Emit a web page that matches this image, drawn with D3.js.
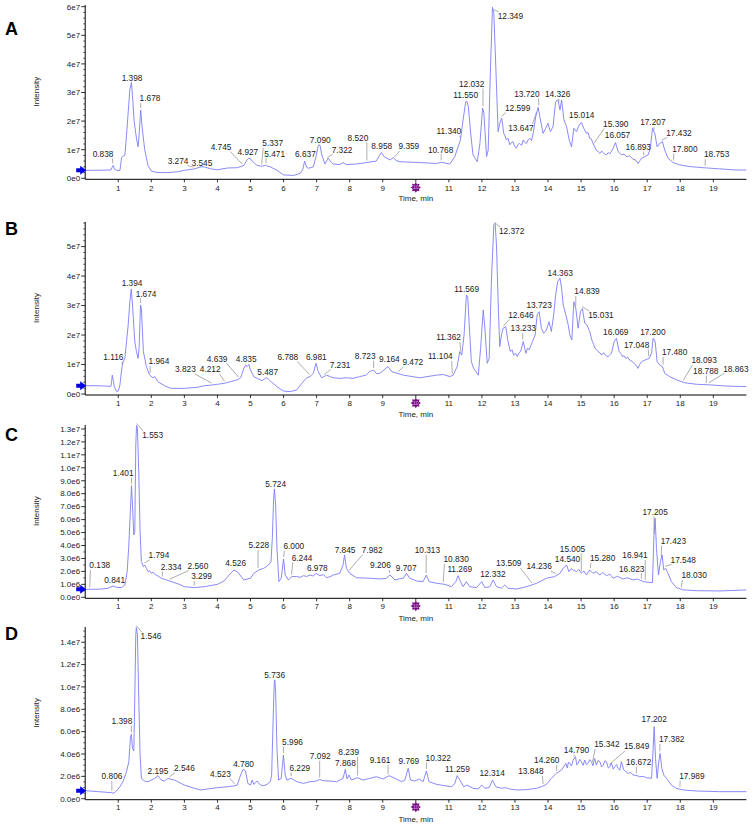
<!DOCTYPE html>
<html><head><meta charset="utf-8">
<script src="https://cdn.jsdelivr.net/npm/d3@7"></script>
<style>body{margin:0;background:#fff} svg{display:block;font-family:Arial,"Liberation Sans",sans-serif}</style>
</head><body><svg id="c" width="753" height="827"></svg>
<script>
// ---------- DATA (time in min, intensity in units of 1e5 counts) ----------
const UNIT = 1e5;
const timeTicks = [1,2,3,4,5,6,7,8,9,10,11,12,13,14,15,16,17,18,19];

const traceA = [[0,28],[0.3,28],[0.6,28.5],[0.78,29],[0.82,40],[0.85,45],[0.88,33],[0.95,28],[1.05,27],[1.1,72],[1.15,78],[1.2,80],[1.25,150],[1.3,230],[1.35,310],[1.398,335],[1.43,290],[1.48,200],[1.55,140],[1.6,110],[1.63,150],[1.678,239],[1.72,180],[1.8,100],[1.9,45],[2.0,25],[2.2,20],[2.5,20],[2.8,23],[3.0,28],[3.3,33],[3.5,40],[3.6,40],[3.8,33],[4.0,30],[4.3,36],[4.6,37],[4.8,45],[4.9,65],[4.95,70],[5.0,68],[5.05,60],[5.1,55],[5.2,45],[5.33,42],[5.45,45],[5.6,40],[5.8,28],[6.0,12],[6.3,10],[6.5,17],[6.58,30],[6.637,60],[6.7,38],[6.75,35],[6.9,40],[6.98,75],[7.05,115],[7.1,117],[7.15,85],[7.25,50],[7.35,70],[7.45,55],[7.5,50],[7.7,48],[7.8,55],[7.9,48],[8.2,50],[8.5,55],[8.8,60],[8.958,90],[9.05,75],[9.22,64],[9.32,73],[9.4,62],[9.52,58],[10.12,55],[10.63,52],[10.78,56],[11.03,50],[11.18,76],[11.28,110],[11.35,134],[11.43,204],[11.51,268],[11.55,268],[11.59,250],[11.66,157],[11.73,82],[11.86,58],[11.94,122],[12.02,245],[12.06,228],[12.14,76],[12.19,99],[12.26,390],[12.32,598],[12.36,577],[12.42,390],[12.49,163],[12.54,192],[12.6,210],[12.66,157],[12.7,148],[12.74,134],[12.79,140],[12.84,117],[12.9,126],[12.94,128],[12.99,112],[13.04,105],[13.09,118],[13.14,122],[13.2,115],[13.25,134],[13.3,125],[13.35,122],[13.4,135],[13.45,140],[13.5,132],[13.55,157],[13.63,216],[13.7,248],[13.77,204],[13.85,157],[13.93,175],[14.0,192],[14.07,163],[14.15,180],[14.23,268],[14.3,274],[14.36,239],[14.41,274],[14.48,204],[14.56,181],[14.64,134],[14.71,110],[14.78,175],[14.86,163],[14.94,186],[15.01,195],[15.08,175],[15.16,157],[15.21,160],[15.26,140],[15.31,138],[15.36,122],[15.41,110],[15.46,99],[15.52,92],[15.57,87],[15.62,95],[15.67,90],[15.72,84],[15.77,82],[15.82,90],[15.87,85],[15.97,105],[16.04,125],[16.12,93],[16.17,88],[16.22,82],[16.3,85],[16.37,76],[16.47,78],[16.57,67],[16.65,64],[16.72,52],[16.78,62],[16.83,70],[16.93,76],[17.03,82],[17.1,110],[17.16,175],[17.23,157],[17.3,110],[17.38,122],[17.46,128],[17.53,99],[17.63,70],[17.78,55],[17.98,47],[18.29,41],[18.69,37],[19.19,33],[19.7,29],[20,29]];

const traceB = [[0,28],[0.4,28],[0.78,26],[0.8,45],[0.82,64],[0.85,45],[0.88,25],[0.95,8],[1.0,10],[1.05,30],[1.1,81],[1.116,93],[1.15,110],[1.2,121],[1.25,178],[1.3,234],[1.35,313],[1.394,356],[1.43,302],[1.5,178],[1.55,144],[1.6,121],[1.63,155],[1.674,302],[1.7,290],[1.76,144],[1.85,93],[1.95,64],[2.05,55],[2.1,59],[2.2,42],[2.4,28],[2.6,19],[3.0,19],[3.4,23],[3.6,28],[3.8,30],[4.0,33],[4.2,36],[4.4,42],[4.6,48],[4.7,55],[4.8,87],[4.85,98],[4.9,93],[4.95,100],[5.0,81],[5.1,59],[5.2,53],[5.35,45],[5.45,53],[5.5,55],[5.6,44],[5.8,25],[6.0,10],[6.2,8],[6.4,14],[6.55,36],[6.7,55],[6.8,59],[6.9,70],[6.98,104],[7.05,76],[7.15,55],[7.3,64],[7.5,55],[7.7,53],[7.9,55],[8.1,53],[8.3,59],[8.5,64],[8.6,76],[8.723,81],[8.8,70],[8.91,70],[9.16,93],[9.27,76],[9.62,64],[10.12,55],[10.63,64],[10.83,66],[11.03,59],[11.13,64],[11.25,93],[11.33,144],[11.39,132],[11.46,200],[11.53,336],[11.57,330],[11.61,245],[11.68,110],[11.75,87],[11.89,64],[11.96,155],[12.04,285],[12.09,223],[12.16,104],[12.22,121],[12.29,393],[12.36,574],[12.4,579],[12.44,506],[12.5,279],[12.54,161],[12.59,200],[12.64,223],[12.72,228],[12.79,178],[12.86,144],[12.91,150],[12.96,132],[13.02,138],[13.07,127],[13.12,140],[13.17,144],[13.25,178],[13.33,138],[13.38,155],[13.43,150],[13.48,165],[13.53,178],[13.61,200],[13.67,268],[13.73,279],[13.8,223],[13.87,206],[13.95,217],[14.03,245],[14.1,212],[14.17,268],[14.23,336],[14.29,381],[14.36,393],[14.41,359],[14.46,302],[14.54,268],[14.61,234],[14.66,200],[14.72,183],[14.78,313],[14.84,290],[14.91,223],[14.98,279],[15.04,290],[15.11,240],[15.18,234],[15.26,212],[15.3,195],[15.34,178],[15.38,168],[15.42,155],[15.47,150],[15.51,144],[15.57,140],[15.62,132],[15.67,140],[15.72,135],[15.77,128],[15.82,127],[15.87,134],[15.92,138],[16.0,178],[16.07,189],[16.15,144],[16.2,138],[16.25,127],[16.3,130],[16.35,121],[16.41,125],[16.47,115],[16.53,112],[16.59,104],[16.65,100],[16.72,87],[16.77,100],[16.83,110],[16.93,115],[17.06,121],[17.13,138],[17.18,189],[17.24,178],[17.3,110],[17.38,98],[17.46,93],[17.53,70],[17.68,59],[17.88,48],[18.14,38],[18.49,33],[18.89,31],[19.4,27],[20,25]];

const traceC = [[0,6.2],[0.3,6.2],[0.5,6.4],[0.7,7.0],[0.84,8.75],[0.95,7.7],[1.1,7.5],[1.2,9.5],[1.27,19.8],[1.32,40.4],[1.36,63.6],[1.401,86.2],[1.43,71.3],[1.47,48.1],[1.5,50.6],[1.53,117.6],[1.553,132.6],[1.58,130.5],[1.62,97],[1.66,50.7],[1.7,27.5],[1.76,23.7],[1.8,25],[1.85,22.4],[1.9,19.8],[1.95,20.5],[2.0,18.5],[2.05,19.5],[2.1,17.8],[2.2,16.5],[2.3,14.7],[2.45,13.5],[2.6,12.1],[2.8,10.5],[3.0,8.2],[3.3,7.5],[3.6,8.2],[4.0,10],[4.2,12.6],[4.4,18.5],[4.5,21.1],[4.6,19.8],[4.8,13.4],[5.0,14.7],[5.1,18.5],[5.25,21.1],[5.4,22.4],[5.55,25],[5.62,27.5],[5.66,45.6],[5.7,76.4],[5.724,83.7],[5.76,71.3],[5.8,37.8],[5.86,12.1],[5.93,14.7],[6.0,29.6],[6.05,17.2],[6.15,13.4],[6.244,16],[6.4,16],[6.5,15.4],[6.6,16.7],[6.7,16.1],[6.8,17.2],[6.9,16.4],[6.978,18.5],[7.1,16.7],[7.2,17.6],[7.3,15.2],[7.4,15.8],[7.5,17.2],[7.7,18.5],[7.8,25],[7.845,32.7],[7.9,22.4],[8.0,18.5],[8.2,15.2],[8.4,14.9],[8.6,14.7],[8.91,14.2],[9.1,14.6],[9.22,17.2],[9.37,13.4],[9.5,14.2],[9.62,14.7],[9.72,18.5],[9.82,14.7],[10.02,12.6],[10.22,12.1],[10.32,17.2],[10.4,12.1],[10.63,10.8],[10.88,10],[11.08,8.2],[11.21,12.1],[11.28,16.7],[11.35,12.1],[11.43,8.2],[11.53,12.1],[11.63,8.2],[11.84,7.5],[11.99,12.1],[12.09,7.5],[12.24,8.2],[12.34,13.4],[12.44,8.2],[12.59,7],[12.69,9.5],[12.79,7],[13.05,6.4],[13.35,8.2],[13.65,10.8],[13.95,14.7],[14.2,16],[14.36,18.5],[14.46,22.4],[14.56,25],[14.63,19.8],[14.7,22.2],[14.76,21.1],[14.86,19.8],[14.93,21.6],[15.01,18.5],[15.08,20.4],[15.16,17.2],[15.26,21.1],[15.36,18.5],[15.45,19.8],[15.57,17.2],[15.65,19.2],[15.77,16.7],[15.87,17.9],[15.97,14.7],[16.1,16.2],[16.27,14.2],[16.4,15.1],[16.57,13.4],[16.7,14.1],[16.88,12.1],[17.03,11.6],[17.16,11.3],[17.2,45.6],[17.24,61],[17.28,37.8],[17.34,17.2],[17.4,27.5],[17.45,32.7],[17.5,21.1],[17.56,22.4],[17.63,18.5],[17.73,12.1],[17.88,7.5],[18.09,5.7],[18.49,5.1],[19.19,4.9],[20,5.7]];

const traceD = [[0,7.2],[0.4,6.3],[0.8,5.4],[0.85,4.8],[0.95,6.9],[1.05,10.7],[1.15,15.8],[1.25,24.2],[1.32,33.1],[1.37,55.5],[1.398,57.6],[1.43,45.1],[1.47,42.7],[1.5,89.9],[1.53,146.6],[1.546,153.1],[1.58,146.6],[1.62,89.9],[1.66,39.1],[1.7,18.2],[1.8,15.8],[1.9,15.2],[2.0,16.7],[2.1,18.2],[2.2,20.6],[2.3,16.7],[2.4,15.8],[2.5,18.2],[2.6,17.3],[2.7,16.7],[2.8,15.2],[2.9,13.7],[3.0,12.2],[3.3,9.3],[3.5,7.8],[3.7,8.7],[4.0,9.9],[4.3,10.7],[4.52,11.6],[4.6,12.2],[4.7,21.2],[4.78,26.3],[4.85,24.8],[4.92,13.7],[5.0,12.2],[5.05,16.7],[5.1,12.8],[5.2,15.8],[5.3,12.2],[5.4,11.6],[5.5,12.8],[5.6,15.2],[5.64,21.2],[5.68,66],[5.72,104.8],[5.736,106.3],[5.76,95.8],[5.8,45.1],[5.85,16.7],[5.93,18.2],[5.996,39.1],[6.05,21.2],[6.1,16.7],[6.229,18.2],[6.4,15.2],[6.6,13.7],[6.8,15.2],[7.0,15.8],[7.09,17.3],[7.2,16.1],[7.4,15.8],[7.6,15.2],[7.7,16.7],[7.8,18.2],[7.868,26.3],[7.92,17.6],[7.98,21.2],[8.05,16.7],[8.239,18.8],[8.4,16.7],[8.61,18.2],[8.81,19.7],[9.01,17.6],[9.19,20.6],[9.37,18.2],[9.57,15.2],[9.67,16.7],[9.77,27.2],[9.84,16.7],[9.97,15.8],[10.1,17.6],[10.22,15.2],[10.32,24.8],[10.4,15.2],[10.63,12.8],[10.88,11.6],[11.08,10.7],[11.18,13.7],[11.25,20.6],[11.33,16.7],[11.45,10.7],[11.55,12.2],[11.73,9.3],[11.89,8.7],[11.99,12.2],[12.09,9.3],[12.22,9.9],[12.32,16.7],[12.42,10.7],[12.59,9.3],[12.69,9.9],[12.84,8.7],[13.05,7.8],[13.35,8.1],[13.65,9.3],[13.8,10.7],[13.95,12.8],[14.1,18.2],[14.25,22.7],[14.41,25.7],[14.54,31.6],[14.58,27.5],[14.62,32.8],[14.66,31.6],[14.71,29.3],[14.76,34.6],[14.83,37.6],[14.87,30.2],[14.91,31.6],[14.96,35.2],[15.01,33.1],[15.06,29.8],[15.11,34.6],[15.16,30.5],[15.21,31.6],[15.26,35.0],[15.31,33.1],[15.36,29.5],[15.41,36.1],[15.46,30.1],[15.51,34.2],[15.57,33.1],[15.62,28.4],[15.67,30.1],[15.72,34.0],[15.77,33.1],[15.82,27.6],[15.87,28.7],[15.92,31.9],[15.97,26.5],[16.02,28.7],[16.07,30.6],[16.12,27.2],[16.17,25.4],[16.22,33.1],[16.29,25.7],[16.35,24.3],[16.42,22.7],[16.5,23.5],[16.57,21.2],[16.66,20.9],[16.77,19.7],[16.88,19.9],[16.98,18.8],[17.13,18.2],[17.18,45.1],[17.21,64.5],[17.25,36.1],[17.3,18.2],[17.35,33.1],[17.39,40.6],[17.44,27.2],[17.5,21.2],[17.58,18.2],[17.73,12.2],[17.88,9.3],[18.09,7.8],[18.49,6.9],[19.19,6.3],[20,6.3]];

// peak labels: [label, text centre time, text baseline intensity (units of 1e5)]
const labelsA = [["0.838",0.54,75.5],["1.398",1.416,341],["1.678",1.96,269],["3.274",2.81,50],["3.545",3.53,43],["4.745",4.11,99],["4.927",4.92,80],["5.337",5.67,113],["5.471",5.73,75.5],["6.637",6.66,75.5],["7.090",7.11,124.5],["7.322",7.77,89.5],["8.520",8.25,131.5],["8.958",8.97,101],["9.359",9.79,101],["10.768",10.75,89.5],["11.340",11.0,155],["11.550",11.51,280],["12.032",11.69,320],["12.349",12.86,558],["12.599",13.08,236],["13.647",13.18,166],["13.720",13.36,285],["14.326",14.29,283],["15.014",15.02,210],["15.390",16.05,180],["16.057",16.10,140],["16.893",16.73,99],["17.207",17.17,186],["17.432",17.96,149],["17.800",18.14,93],["18.753",19.10,73]];
const labelsB = [["1.116",0.85,115],["1.394",1.416,367],["1.674",1.84,330],["1.964",2.23,101],["3.823",3.03,74],["4.212",3.78,74],["4.639",3.99,110],["4.835",4.87,110],["5.487",5.52,64.5],["6.788",6.13,116],["6.981",6.99,116],["7.231",7.71,89],["8.723",8.47,118],["9.164",9.2,108],["9.472",9.91,98],["11.104",10.74,118],["11.362",10.99,183],["11.569",11.54,345],["12.372",12.90,543],["12.646",13.18,258],["13.233",13.25,212],["13.723",13.73,291],["14.363",14.37,400],["14.839",15.18,338],["15.031",15.60,257],["16.069",16.05,200],["17.048",16.68,157],["17.200",17.17,200],["17.480",17.83,132],["18.093",18.72,104],["18.788",18.77,68],["18.863",19.68,76]];
const labelsC = [["0.138",0.44,22.4],["0.841",0.89,11.3],["1.401",1.15,93.7],["1.553",2.04,122.8],["1.794",2.23,30.1],["2.334",2.60,21.3],["2.560",3.41,21.9],["3.299",3.52,13.9],["4.526",4.55,23.9],["5.228",5.25,37.8],["5.724",5.76,85.4],["6.000",6.31,37.1],["6.244",6.56,28.3],["6.978",7.02,20.5],["7.845",7.86,34.4],["7.982",8.68,34.4],["9.206",8.93,22.4],["9.707",9.71,20.5],["10.313",10.35,34.0],["10.830",11.22,27.0],["11.269",11.33,19.3],["12.332",12.33,15.4],["13.509",12.81,23.9],["14.236",13.73,21.6],["14.540",14.59,27.5],["15.005",14.74,35.2],["15.280",15.65,28.0],["16.823",16.53,19.8],["16.941",16.63,30.1],["17.205",17.24,63.6],["17.423",17.79,41.2],["17.548",18.09,26.7],["18.030",18.42,14.7]];
const labelsD = [["0.806",0.81,17.6],["1.398",1.11,66.6],["1.546",1.99,143],["2.195",2.20,22.1],["2.546",3.0,24.8],["4.523",4.09,19.7],["4.780",4.79,28.6],["5.736",5.73,108.3],["5.996",6.27,48.2],["6.229",6.49,25.1],["7.092",7.11,35.5],["7.868",7.87,29.5],["8.239",7.97,39.1],["9.161",8.92,31.7],["9.769",9.79,31.1],["10.322",10.68,34.0],["11.259",11.26,24.2],["12.314",12.31,20.6],["13.848",13.48,21.8],["14.260",13.96,31.7],["14.790",14.86,41.2],["15.342",15.78,46.0],["15.849",16.68,44.2],["16.672",16.74,30.2],["17.202",17.21,68.4],["17.382",17.74,50.5],["17.989",18.35,17.6]];

// y ticks (raw intensity) and their texts
const yTicksA = [0,1e7,2e7,3e7,4e7,5e7,6e7];
const yTextA  = ["0e0","1e7","2e7","3e7","4e7","5e7","6e7"];
const yTicksB = [0,1e7,2e7,3e7,4e7,5e7];
const yTextB  = ["0e0","1e7","2e7","3e7","4e7","5e7"];
const yTicksC = [0,1e6,2e6,3e6,4e6,5e6,6e6,7e6,8e6,9e6,1e7,1.1e7,1.2e7,1.3e7];
const yTextC  = ["0.0e0","1.0e6","2.0e6","3.0e6","4.0e6","5.0e6","6.0e6","7.0e6","8.0e6","9.0e6","1.0e7","1.1e7","1.2e7","1.3e7"];
const yTicksD = [0,2e6,4e6,6e6,8e6,1e7,1.2e7,1.4e7];
const yTextD  = ["0.0e0","2.0e6","4.0e6","6.0e6","8.0e6","1.0e7","1.2e7","1.4e7"];

// ---------- LAYOUT ----------
const X0 = 85.2, X1 = 746.4;
const panels = [
  {letter:"A", trace:traceA, labels:labelsA, yt:yTicksA, ytx:yTextA, yMax:6.0e7,   y0:178.3, y1:6.7,   axTop:5,   minor:5, letterY:35,  tickY:190.5, timeY:201},
  {letter:"B", trace:traceB, labels:labelsB, yt:yTicksB, ytx:yTextB, yMax:5.8e7,   y0:394,   y1:223,   axTop:222, minor:5, letterY:235, tickY:406,   timeY:417},
  {letter:"C", trace:traceC, labels:labelsC, yt:yTicksC, ytx:yTextC, yMax:1.325e7, y0:597.3, y1:425.7, axTop:425, minor:2, letterY:441, tickY:609,   timeY:621},
  {letter:"D", trace:traceD, labels:labelsD, yt:yTicksD, ytx:yTextD, yMax:1.53e7,  y0:798.7, y1:627.7, axTop:627, minor:4, letterY:640, tickY:810,   timeY:822}
];
const lineColor = "#7d7df7";
const svg = d3.select("#c");
const x = d3.scaleLinear().domain([0,20]).range([X0, X1]);

function peakValue(trace, t) {
  let best = -Infinity;
  for (let i = 0; i < trace.length - 1; i++) {
    const a = trace[i], b = trace[i+1];
    if (t >= a[0] && t <= b[0]) {
      const f = (t - a[0]) / (b[0] - a[0]);
      best = Math.max(best, a[1] + f * (b[1] - a[1]));
    }
  }
  trace.forEach(p => { if (Math.abs(p[0] - t) <= 0.025) best = Math.max(best, p[1]); });
  return best;
}

panels.forEach((p, pi) => {
  const y = d3.scaleLinear().domain([0, p.yMax]).range([p.y0, p.y1]);
  const yu = v => y(v * UNIT);
  const g = svg.append("g");
  const clipId = "clip" + pi;
  svg.append("clipPath").attr("id", clipId).append("rect")
    .attr("x", X0).attr("y", p.axTop).attr("width", X1 - X0 + 2).attr("height", p.y0 - p.axTop + 1);

  // panel letter
  g.append("text").attr("x", 5).attr("y", p.letterY).attr("font-size", 18).attr("font-weight", "bold")
    .attr("fill", "#000").text(p.letter);

  // y axis
  g.append("line").attr("x1", X0).attr("x2", X0).attr("y1", p.axTop).attr("y2", p.y0 + 1)
    .attr("stroke", "#000").attr("stroke-width", 1);
  const step = p.yt[1] - p.yt[0];
  const minorVals = d3.range(0, p.yMax * 1.0001, step / p.minor).filter(v => !p.yt.some(t => Math.abs(t - v) < step * 1e-3));
  g.selectAll(null).data(minorVals).enter().append("line")
    .attr("x1", X0 - 2).attr("x2", X0).attr("y1", d => y(d)).attr("y2", d => y(d))
    .attr("stroke", "#000").attr("stroke-width", 0.6);
  g.selectAll(null).data(p.yt).enter().append("line")
    .attr("x1", X0 - 4).attr("x2", X0).attr("y1", d => y(d)).attr("y2", d => y(d))
    .attr("stroke", "#000").attr("stroke-width", 0.8);
  g.selectAll(null).data(p.yt).enter().append("text")
    .attr("x", X0 - 5).attr("y", d => y(d)).attr("dy", "0.35em").attr("text-anchor", "end")
    .attr("font-size", 8).attr("fill", "#222").text((d, i) => p.ytx[i]);

  // y label
  const midY = (p.y0 + p.axTop) / 2;
  g.append("text").attr("transform", `translate(39,${midY}) rotate(-90)`).attr("text-anchor", "middle")
    .attr("font-size", 8).attr("fill", "#222").text("Intensity");

  // x axis
  const axY = p.y0 + 1;
  g.append("line").attr("x1", X0).attr("x2", X1).attr("y1", axY).attr("y2", axY).attr("stroke", "#000").attr("stroke-width", 1);
  g.selectAll(null).data(timeTicks).enter().append("line")
    .attr("x1", d => x(d)).attr("x2", d => x(d)).attr("y1", axY).attr("y2", axY + 3)
    .attr("stroke", "#000").attr("stroke-width", 0.8);
  g.selectAll(null).data(timeTicks.filter(d => d !== 10)).enter().append("text")
    .attr("x", d => x(d)).attr("y", p.tickY).attr("text-anchor", "middle")
    .attr("font-size", 8).attr("fill", "#222").text(d => d);
  // purple marker at 10
  const mx = x(10), my = p.tickY - 3;
  const star = [];
  for (let k = 0; k < 16; k++) {
    const r = k % 2 === 0 ? 5.2 : 3.4, a = Math.PI * k / 8;
    star.push([mx + r * Math.cos(a), my + r * Math.sin(a)]);
  }
  g.append("path").attr("d", "M" + star.map(s => s.join(",")).join("L") + "Z").attr("fill", "#7a0a86");
  g.append("text").attr("x", mx).attr("y", my + 1.8).attr("text-anchor", "middle").attr("font-size", 5)
    .attr("fill", "#d9b3e0").text("10");
  g.append("text").attr("x", x(10)).attr("y", p.timeY).attr("text-anchor", "middle")
    .attr("font-size", 8).attr("fill", "#222").text("Time, min");

  // trace
  const line = d3.line().x(d => x(d[0])).y(d => yu(d[1]));
  g.append("path").datum(p.trace).attr("d", line).attr("fill", "none")
    .attr("stroke", lineColor).attr("stroke-width", 0.9).attr("clip-path", `url(#${clipId})`);

  // start arrow
  const ay = yu(p.trace[0][1]);
  g.append("path").attr("d", `M${X0-9},${ay-2}L${X0-5},${ay-2}L${X0-5},${ay-4.5}L${X0+1},${ay}L${X0-5},${ay+4.5}L${X0-5},${ay+2}L${X0-9},${ay+2}Z`)
    .attr("fill", "#0000e6");

  // labels + leaders
  const lg = g.append("g");
  p.labels.forEach(l => {
    const t = +l[0];
    const tx = x(l[1]), ty = yu(l[2]);
    const txt = lg.append("text").attr("x", tx).attr("y", ty).attr("text-anchor", "middle")
      .attr("font-size", 8.3).attr("fill", "#222").text(l[0]);
    const w = txt.node().getComputedTextLength();
    const left = tx - w / 2, right = tx + w / 2, top = ty - 6.5, bottom = ty + 1.2;
    const px = x(t), py = yu(peakValue(p.trace, t)) - 2;
    const ex = Math.max(left + 1, Math.min(right - 1, px));
    let ey;
    if (py > bottom) ey = bottom + 0.5;
    else if (py < top) ey = top - 0.5;
    else return;
    if (Math.hypot(ex - px, ey - py) < 1.5) return;
    lg.append("line").attr("x1", px).attr("y1", py).attr("x2", ex).attr("y2", ey)
      .attr("stroke", "#8a8a8a").attr("stroke-width", 0.7);
  });
});
</script></body></html>
